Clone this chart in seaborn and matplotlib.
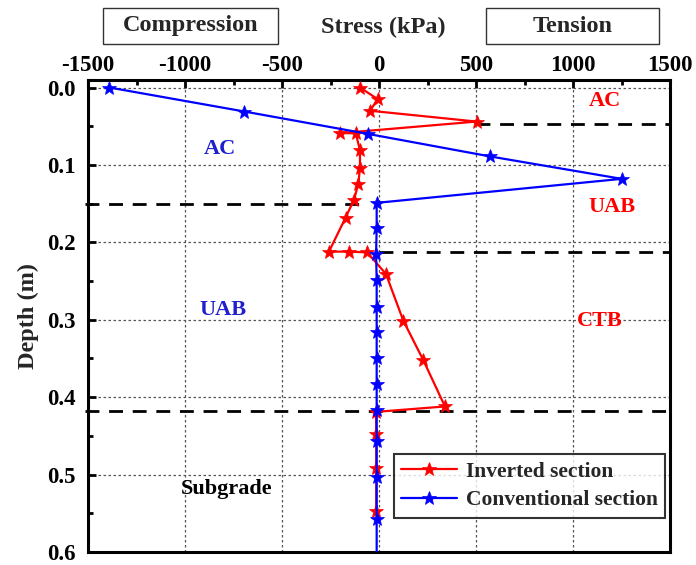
import matplotlib
matplotlib.use("Agg")
import matplotlib.pyplot as plt
from matplotlib.patches import Rectangle
import seaborn as sns
import pandas as pd

# Stress profiles (kPa) against depth (m)
inverted_stress = [-98, -7, -46, 503, -201, -120, -98, -98, -107, -129, -172,
                   -258, -155, -60, 36, 125, 228, 340, -15, -14, -14, -14]
inverted_depth = [0.000, 0.015, 0.030, 0.044, 0.059, 0.059, 0.081, 0.104, 0.125,
                  0.145, 0.168, 0.212, 0.212, 0.213, 0.241, 0.301, 0.352, 0.412,
                  0.419, 0.448, 0.491, 0.547]

conventional_stress = [-1390, -694, -55, 572, 1251, -12, -12, -15, -12, -12, -12,
                       -12, -12, -12, -12, -12, -12, -12]
conventional_depth = [0.000, 0.031, 0.060, 0.089, 0.118, 0.149, 0.182, 0.215,
                      0.249, 0.283, 0.316, 0.349, 0.383, 0.417, 0.456, 0.503,
                      0.557, 0.600]

# Layer boundaries: (depth, stress from, stress to)
boundary_depth = [0.047, 0.151, 0.213, 0.418]
boundary_from = [500, -1515, 0, -1515]
boundary_to = [1500, -89, 1500, 1500]

x_ticks = [-1500, -1000, -500, 0, 500, 1000, 1500]
y_ticks = [0.0, 0.1, 0.2, 0.3, 0.4, 0.5, 0.6]

sns.set_theme(style="white")
plt.rcParams["font.family"] = ["Liberation Serif", "DejaVu Serif"]
plt.rcParams["font.weight"] = "bold"
plt.rcParams["axes.labelweight"] = "bold"

fig = plt.figure(figsize=(6.96, 5.65), dpi=100)
ax = fig.add_axes([88 / 696, 1 - 552 / 565, (670 - 88) / 696, (552 - 80) / 565])

inv = pd.DataFrame({"stress": inverted_stress, "depth": inverted_depth})
con = pd.DataFrame({"stress": conventional_stress, "depth": conventional_depth})

sns.lineplot(data=inv, x="stress", y="depth", sort=False, estimator=None,
             color="#ff0000", lw=1.6, marker="*", ms=10, mec="#ff0000",
             mfc="#ff0000", mew=0.5, label="Inverted section", ax=ax, zorder=3)
sns.lineplot(data=con, x="stress", y="depth", sort=False, estimator=None,
             color="#0000ff", lw=1.6, marker="*", ms=10, mec="#0000ff",
             mfc="#0000ff", mew=0.5, markevery=list(range(len(con) - 1)),
             label="Conventional section", ax=ax, zorder=4)

for d, x0, x1 in zip(boundary_depth, boundary_from, boundary_to):
    ax.plot([x0, x1], [d, d], color="black", lw=2.0, ls=(0, (5, 3.5)),
            clip_on=False, zorder=2)

ax.set_xlim(-1500, 1500)
ax.set_ylim(0.6, -0.0097)
ax.set_xticks(x_ticks)
ax.set_yticks(y_ticks)
ax.set_xticks([-1250, -750, -250, 250, 750, 1250], minor=True)
ax.set_yticks([0.05, 0.15, 0.25, 0.35, 0.45, 0.55], minor=True)
ax.set_xticklabels([str(v) for v in x_ticks])
ax.set_yticklabels([f"{v:.1f}" for v in y_ticks])
ax.xaxis.tick_top()
ax.tick_params(axis="x", which="both", top=True, bottom=False, labeltop=True,
               labelbottom=False, direction="in", width=2, colors="black",
               labelsize=16.5, pad=3)
ax.tick_params(axis="x", which="major", length=6)
ax.tick_params(axis="x", which="minor", length=3.5)
ax.tick_params(axis="y", which="both", left=True, right=False, direction="in",
               width=2, colors="black", labelsize=16.5, pad=9)
ax.tick_params(axis="y", which="major", length=6)
ax.tick_params(axis="y", which="minor", length=3.5)
for lab in ax.get_xticklabels() + ax.get_yticklabels():
    lab.set_fontweight("bold")

ax.grid(True, which="major", color="#555555", lw=0.9, ls=(0, (2, 2)))
ax.set_axisbelow(True)
for sp in ax.spines.values():
    sp.set_linewidth(2.2)
    sp.set_color("black")

ax.set_xlabel("")
ax.set_ylabel("Depth (m)", fontsize=17.5, fontweight="bold", labelpad=6)

# Layer names
blue_txt = "#1f1fcc"
ax.text(-820, 0.080, "AC", color=blue_txt, fontsize=16, fontweight="bold",
        ha="center", va="center")
ax.text(-805, 0.288, "UAB", color=blue_txt, fontsize=16, fontweight="bold",
        ha="center", va="center")
ax.text(-785, 0.518, "Subgrade", color="black", fontsize=16, fontweight="bold",
        ha="center", va="center")
ax.text(1165, 0.018, "AC", color="#ff0000", fontsize=16, fontweight="bold",
        ha="center", va="center")
ax.text(1200, 0.154, "UAB", color="#ff0000", fontsize=16, fontweight="bold",
        ha="center", va="center")
ax.text(1140, 0.302, "CTB", color="#ff0000", fontsize=16, fontweight="bold",
        ha="center", va="center")

leg = ax.legend(loc="lower right", bbox_to_anchor=(0.992, 0.072), fontsize=15.5,
                frameon=True, fancybox=False, handlelength=2.6,
                borderpad=0.35, labelspacing=0.4, handletextpad=0.4,
                borderaxespad=0.0)
leg.get_frame().set_edgecolor("black")
leg.get_frame().set_linewidth(1.5)
for t in leg.get_texts():
    t.set_fontweight("bold")

# Header above the top axis
W, H = 696, 565
fig.text(383 / W, 1 - 27 / H, "Stress (kPa)", ha="center", va="center",
         fontsize=17.5, fontweight="bold")
for (x0, x1, label) in [(103, 278, "Compression"), (486, 659, "Tension")]:
    fig.patches.append(Rectangle((x0 / W, 1 - 44 / H), (x1 - x0) / W, 36 / H,
                                 transform=fig.transFigure, fill=False,
                                 edgecolor="#333333", lw=1.0))
    fig.text((x0 + x1) / 2 / W, 1 - 26 / H, label, ha="center", va="center",
             fontsize=17.5, fontweight="bold")

fig.savefig("out.png", dpi=100)
